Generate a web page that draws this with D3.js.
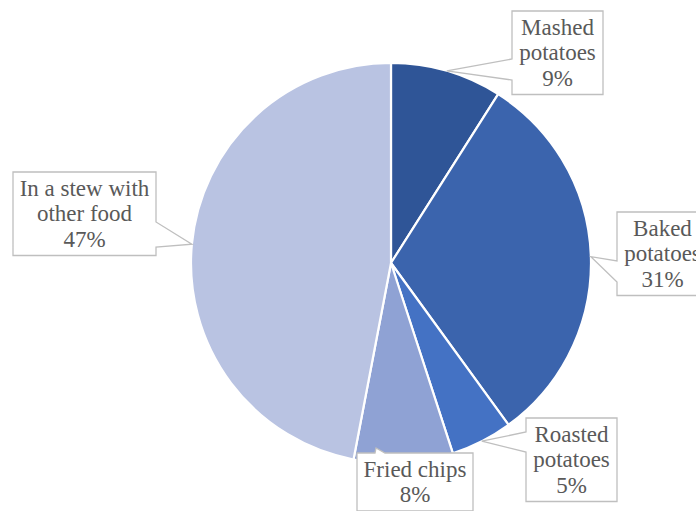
<!DOCTYPE html>
<html>
<head>
<meta charset="utf-8">
<script src="https://cdn.jsdelivr.net/npm/d3@7"></script>
<style>
  html, body { margin: 0; padding: 0; background: #fff; }
  svg { display: block; }
  .callout-text { font-family: "Liberation Serif", Tinos, "Times New Roman", Times, "DejaVu Serif", "Noto Serif", serif; }
</style>
</head>
<body>
<svg id="chart" width="696" height="511"></svg>
<script>
// How potatoes are eaten (share of respondents)
const categories = ["Mashed potatoes", "Baked potatoes", "Roasted potatoes", "Fried chips", "In a stew with other food"];
const shares = [9, 31, 5, 8, 47];
const labelLines = [
  ["Mashed", "potatoes"],
  ["Baked", "potatoes"],
  ["Roasted", "potatoes"],
  ["Fried chips"],
  ["In a stew with", "other food"]
];
const sliceColors = ["#2f5597", "#3b64ad", "#4472c4", "#8fa2d4", "#b9c3e2"];

// Callout boxes: rectangle, edge carrying the pointer, and pointer base span along that edge
const callouts = [
  { x: 512, y: 11,  w: 91,  side: "left",  base: [48, 69] },
  { x: 617, y: 212, w: 91,  side: "left",  base: [49, 70] },
  { x: 526, y: 418, w: 91,  side: "left",  base: [14, 34] },
  { x: 357, y: 453, w: 116, side: "top",   base: [18, 28] },
  { x: 13,  y: 172, w: 143, side: "right", base: [50, 75] }
];

const svg = d3.select("#chart");
const cx = 391, cy = 263, radius = 200;
const lineH = 25.5, firstBase = 23.5, padBottom = 7;

const data = categories.map((c, i) => ({ name: c, value: shares[i], lines: labelLines[i].concat([shares[i] + "%"]), color: sliceColors[i], box: callouts[i] }));

const pie = d3.pie().sort(null).value(d => d.value);
const arc = d3.arc().innerRadius(0).outerRadius(radius);
const arcs = pie(data);

const g = svg.append("g").attr("transform", `translate(${cx},${cy})`);
g.selectAll("path.slice")
  .data(arcs)
  .enter().append("path")
  .attr("class", "slice")
  .attr("d", arc)
  .attr("fill", d => d.data.color)
  .attr("stroke", "#ffffff")
  .attr("stroke-width", 2.2)
  .attr("stroke-linejoin", "round");

// Callout labels pointing at the outer edge of each slice
function calloutPath(b, h, tip) {
  const x0 = b.x, y0 = b.y, x1 = b.x + b.w, y1 = b.y + h;
  if (b.side === "left") {
    return `M${x0},${y0}L${x1},${y0}L${x1},${y1}L${x0},${y1}L${x0},${y0 + b.base[1]}L${tip[0]},${tip[1]}L${x0},${y0 + b.base[0]}Z`;
  }
  if (b.side === "right") {
    return `M${x0},${y0}L${x1},${y0}L${x1},${y0 + b.base[0]}L${tip[0]},${tip[1]}L${x1},${y0 + b.base[1]}L${x1},${y1}L${x0},${y1}Z`;
  }
  // top
  return `M${x0},${y0}L${x0 + b.base[0]},${y0}L${tip[0]},${tip[1]}L${x0 + b.base[1]},${y0}L${x1},${y0}L${x1},${y1}L${x0},${y1}Z`;
}

const labels = svg.append("g");
arcs.forEach(a => {
  const b = a.data.box;
  const h = a.data.lines.length * lineH + padBottom;
  const mid = (a.startAngle + a.endAngle) / 2;
  let tip = [cx + radius * Math.sin(mid), cy - radius * Math.cos(mid)];
  // When the slice edge falls under the box, keep only a small notch on the edge
  if (tip[0] > b.x && tip[0] < b.x + b.w && tip[1] > b.y && tip[1] < b.y + h) {
    tip = [b.x + b.base[0] + 1, b.y - 5];
  }
  labels.append("path")
    .attr("d", calloutPath(b, h, tip))
    .attr("fill", "#ffffff")
    .attr("stroke", "#bfbfbf")
    .attr("stroke-width", 1.3)
    .attr("stroke-linejoin", "miter");
  const t = labels.append("text")
    .attr("class", "callout-text")
    .attr("text-anchor", "middle")
    .style("font-size", "23px")
    .attr("fill", "#595959");
  a.data.lines.forEach((ln, i) => {
    t.append("tspan")
      .attr("x", b.x + b.w / 2)
      .attr("y", b.y + firstBase + i * lineH)
      .text(ln);
  });
});
</script>
</body>
</html>
